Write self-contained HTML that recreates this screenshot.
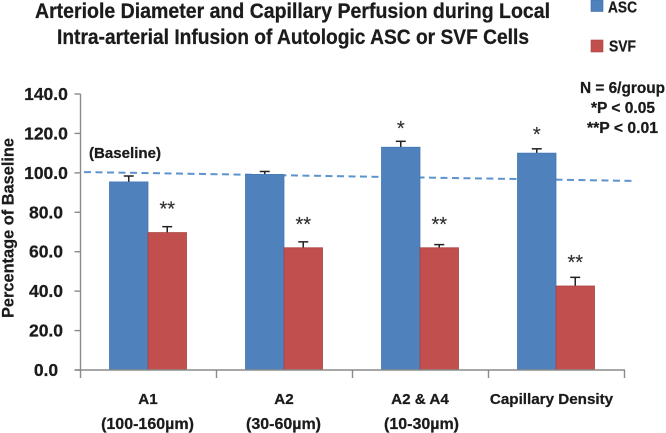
<!DOCTYPE html>
<html>
<head>
<meta charset="utf-8">
<title>Arteriole Diameter and Capillary Perfusion</title>
<style>
html,body{margin:0;padding:0;background:#fff;}
svg{display:block;}
text{font-family:"Liberation Sans",sans-serif;font-weight:bold;fill:#1a1a1a;stroke:#1a1a1a;stroke-width:0.25px;}
text.mark{font-weight:normal;fill:#333;stroke:#333;stroke-width:0.2px;}
</style>
</head>
<body>
<svg id="chart" width="666" height="433" viewBox="0 0 666 433" xmlns="http://www.w3.org/2000/svg">
<g filter="url(#soft)">
<text x="35" y="18" font-size="21" textLength="515" lengthAdjust="spacingAndGlyphs">Arteriole Diameter and Capillary Perfusion during Local</text>
<text x="57" y="44" font-size="21" textLength="472" lengthAdjust="spacingAndGlyphs">Intra-arterial Infusion of Autologic ASC or SVF Cells</text>
<rect x="591" y="0" width="12" height="11.5" fill="#4f81bd" stroke="#3f6fa8" stroke-width="0.6"/>
<text x="608" y="12.5" font-size="16" textLength="29" lengthAdjust="spacingAndGlyphs">ASC</text>
<rect x="591" y="40" width="12" height="12" fill="#c0504d" stroke="#a84441" stroke-width="0.6"/>
<text x="609" y="51.5" font-size="16" textLength="27" lengthAdjust="spacingAndGlyphs">SVF</text>
<text x="580" y="93" font-size="16" textLength="85" lengthAdjust="spacingAndGlyphs">N = 6/group</text>
<text x="591" y="113" font-size="16" textLength="64" lengthAdjust="spacingAndGlyphs">*P &lt; 0.05</text>
<text x="587" y="133" font-size="16" textLength="71" lengthAdjust="spacingAndGlyphs">**P &lt; 0.01</text>
<text transform="translate(13.5 318) rotate(-90)" font-size="17" textLength="180" lengthAdjust="spacingAndGlyphs">Percentage of Baseline</text>
<text x="89" y="158" font-size="15" textLength="72" lengthAdjust="spacingAndGlyphs">(Baseline)</text>
<g id="plot"></g>
</g>
<defs>
<filter id="soft" x="0" y="0" width="100%" height="100%"><feGaussianBlur stdDeviation="0.3"/></filter>
</defs>
</svg>
<script>
const categories = ["A1", "A2", "A2 & A4", "Capillary Density"];
const subLabels = ["(100-160µm)", "(30-60µm)", "(10-30µm)", ""];
const ascValues = [95.4, 99.2, 113, 110];
const svfValues = [69.7, 62, 62, 42.6];
const ascErrors = [3, 1.5, 3, 2.2];
const svfErrors = [3, 3, 1.6, 4.4];
const ascMarks = ["", "", "*", "*"];
const svfMarks = ["**", "**", "**", "**"];
const yTicks = [0, 20, 40, 60, 80, 100, 120, 140];
const baselineEnds = [100.4, 95.9];

const NS = "http://www.w3.org/2000/svg";
const plot = document.getElementById("plot");
const x0 = 80.5, groupW = 136, barW = 38.5;
const yBase = 370, yTop = 94, yMax = 140;
function yScale(v) { return yBase - (v / yMax) * (yBase - yTop); }
function groupCenter(i) { return x0 + groupW * (i + 0.5); }
function add(tag, attrs, text) {
  const el = document.createElementNS(NS, tag);
  for (const k in attrs) el.setAttribute(k, attrs[k]);
  if (text !== undefined) el.textContent = text;
  plot.appendChild(el);
  return el;
}
function slug(s) { return s.toLowerCase().replace(/[^a-z0-9]+/g, "-"); }

function drawBar(i, val, err, left, fill, edge, name, mark, markY) {
  const cx = left + barW / 2;
  const top = yScale(val), errTop = yScale(val + err);
  const stem = add("line", {x1: cx, x2: cx, y1: top, y2: errTop, stroke: "#222", "stroke-width": 1.5});
  
  
  const cap = add("line", {x1: cx - 5, x2: cx + 5, y1: errTop, y2: errTop, stroke: "#222", "stroke-width": 1.5});
  
  
  const bar = add("rect", {x: left, y: top, width: barW, height: yBase - top, fill: fill, stroke: edge, "stroke-width": 0.8});
  
  
  if (mark) {
    const t = add("text", {class: "mark", x: cx, y: markY, "text-anchor": "middle", "font-size": 20}, mark);
    
    
  }
}

const dash = add("line", {x1: 84, x2: 634, y1: yScale(baselineEnds[0]), y2: yScale(baselineEnds[1]), stroke: "#5b93cf", "stroke-width": 2, "stroke-dasharray": "7 4.5"});



categories.forEach(function (c, i) {
  const cx = groupCenter(i) - 0.5;
  const s = slug(c);
  drawBar(i, ascValues[i], ascErrors[i], cx - barW, "#4f81bd", "#4477b3", "asc-" + s, ascMarks[i], yScale(ascValues[i]) - 23 + 11);
  drawBar(i, svfValues[i], svfErrors[i], cx, "#c0504d", "#aa403d", "svf-" + s, svfMarks[i], yScale(svfValues[i]) - 28 + 11);
  const lab = add("text", {x: cx + (i === 3 ? -4.5 : 0), y: 404, "text-anchor": "middle", "font-size": 15.2}, c);
  
  
  if (subLabels[i]) {
    const sub = add("text", {x: cx - (i === 2 ? -1.5 : 0.5), y: 429, "text-anchor": "middle", "font-size": 16}, subLabels[i]);
    
    
  }
});

const yAxis = add("line", {x1: x0, x2: x0, y1: yTop, y2: yBase, stroke: "#8a8a8a", "stroke-width": 1.4});


const xAxis = add("line", {x1: x0 - 6, x2: x0 + groupW * categories.length + 0.5, y1: yBase, y2: yBase, stroke: "#8a8a8a", "stroke-width": 1.4});



yTicks.forEach(function (v) {
  const y = yScale(v);
  const tick = add("line", {x1: x0 - 6, x2: x0, y1: y, y2: y, stroke: "#8a8a8a", "stroke-width": 1.4});
  
  
  const lab = add("text", {x: 46, y: y + 6, "text-anchor": "middle", "font-size": 17.5}, v.toFixed(1));
  
  
});

for (let i = 0; i <= categories.length; i++) {
  const x = x0 + groupW * i;
  const tick = add("line", {x1: x, x2: x, y1: yBase, y2: yBase + 8, stroke: "#8a8a8a", "stroke-width": 1.4});
  
  
}
</script>
</body>
</html>
